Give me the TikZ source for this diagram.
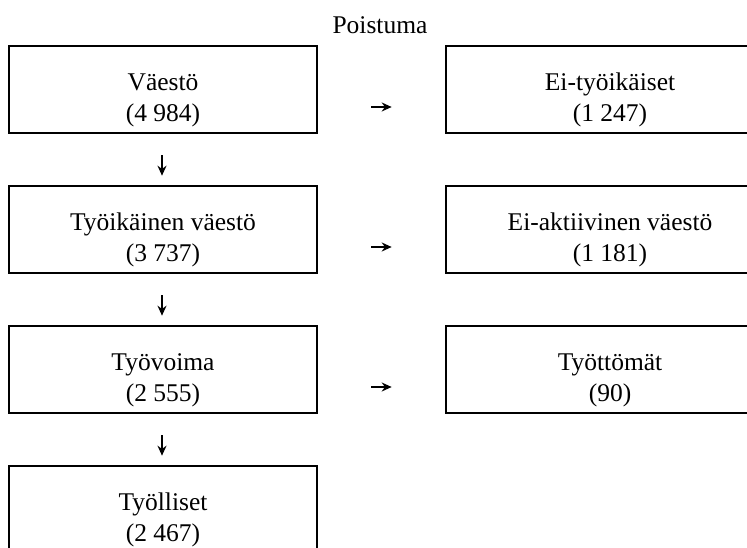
\documentclass[tikz,border=0pt]{standalone}
\usepackage{fontspec}
\setmainfont{Liberation Serif}
\usetikzlibrary{arrows.meta}
\begin{document}
\begin{tikzpicture}[x=1pt,y=-1pt,
  box/.style={draw=black,line width=2.6pt,rectangle,minimum height=87pt,inner sep=0pt},
  lbox/.style={box,minimum width=308pt},
  rbox/.style={box,minimum width=328pt},
  txt/.style={align=center,inner sep=0pt,font=\fontsize{25.5}{31}\selectfont},
  arr/.style={line width=2.2pt,-{Stealth[length=10pt,width=9pt]}},
  lbl/.style={font=\fontsize{25.5}{31}\selectfont}]
\clip (0,0) rectangle (747,548);
\fill[white] (0,0) rectangle (747,548);
\node[lbl] (poist) at (380,25) {Poistuma};
\node[lbox] (v) at (163,89.5) {};
\node[lbox] (tv) at (163,229.5) {};
\node[lbox] (tvo) at (163,369.5) {};
\node[lbox] (tl) at (163,509.5) {};
\node[rbox] (et) at (610,89.5) {};
\node[rbox] (ea) at (610,229.5) {};
\node[rbox] (tt) at (610,369.5) {};
\node[txt] (vt) at ([yshift=-10.5pt]v.center) {Väestö\\(4 984)};
\node[txt] (tvt) at ([yshift=-10.5pt]tv.center) {Työikäinen väestö\\(3 737)};
\node[txt] (tvot) at ([yshift=-10.5pt]tvo.center) {Työvoima\\(2 555)};
\node[txt] (tlt) at ([yshift=-10.5pt]tl.center) {Työlliset\\(2 467)};
\node[txt] (ett) at ([yshift=-10.5pt]et.center) {Ei-työikäiset\\(1 247)};
\node[txt] (eat) at ([yshift=-10.5pt]ea.center) {Ei-aktiivinen väestö\\(1 181)};
\node[txt] (ttt) at ([yshift=-10.5pt]tt.center) {Työttömät\\(90)};
\draw[arr,shorten <=53pt,shorten >=53pt] ([yshift=-17.5pt]v.east) -- ([yshift=-17.5pt]et.west);
\draw[arr,shorten <=53pt,shorten >=53pt] ([yshift=-17.5pt]tv.east) -- ([yshift=-17.5pt]ea.west);
\draw[arr,shorten <=53pt,shorten >=53pt] ([yshift=-17.5pt]tvo.east) -- ([yshift=-17.5pt]tt.west);
\draw[arr,shorten <=21pt,shorten >=9pt] ([xshift=-1pt]v.south) -- ([xshift=-1pt]tv.north);
\draw[arr,shorten <=21pt,shorten >=9pt] ([xshift=-1pt]tv.south) -- ([xshift=-1pt]tvo.north);
\draw[arr,shorten <=21pt,shorten >=9pt] ([xshift=-1pt]tvo.south) -- ([xshift=-1pt]tl.north);
\end{tikzpicture}
\end{document}
